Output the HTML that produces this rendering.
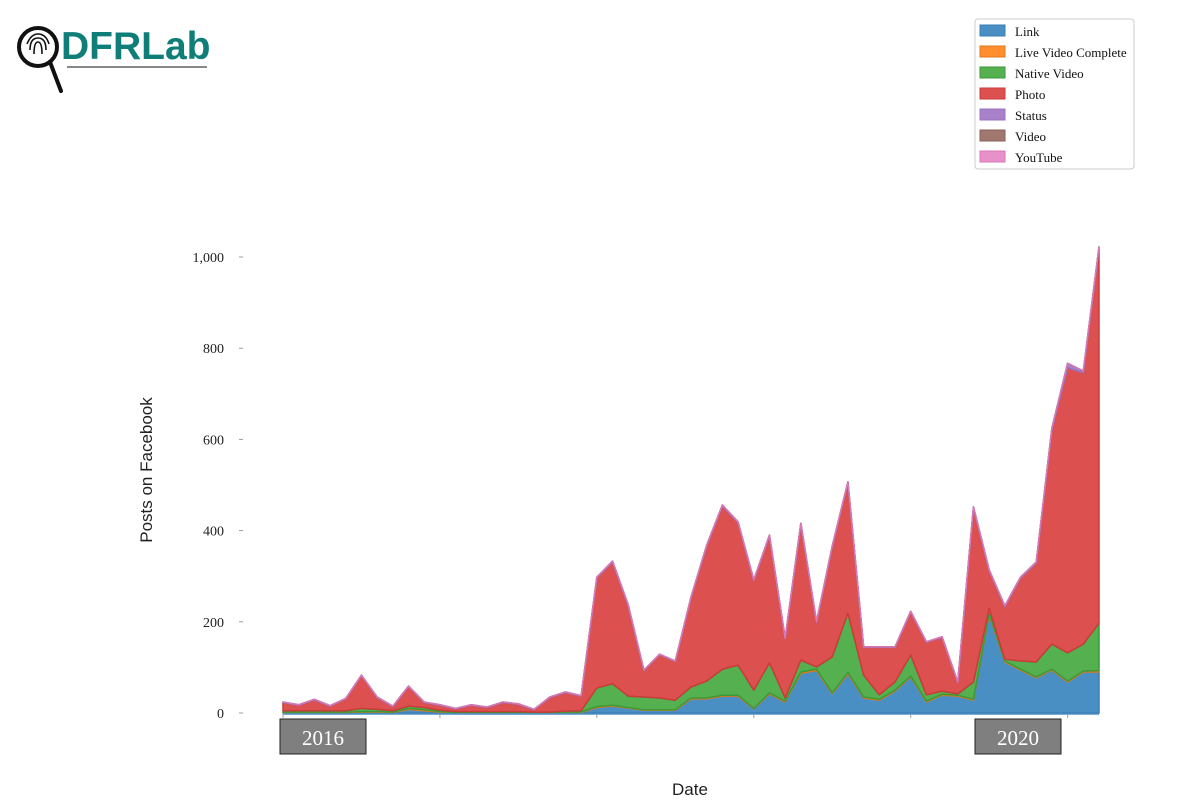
<!DOCTYPE html>
<html><head><meta charset="utf-8">
<style>
body{margin:0;width:1200px;height:812px;background:#fff;overflow:hidden;font-family:"Liberation Serif",serif;}
svg{position:absolute;left:0;top:0;}
</style></head>
<body>
<svg width="1200" height="812" id="chart">
  <g>
    <circle cx="38" cy="47" r="19" fill="none" stroke="#111" stroke-width="4"/>
    <path d="M30 50 q0-12 8-12 q8 0 8 12 M34 54 q0-12 4-12 q4 0 4 12 M27 44 q4-10 11-10 q8 0 11 10" fill="none" stroke="#111" stroke-width="1.6"/>
    <line x1="50" y1="62" x2="61" y2="91" stroke="#111" stroke-width="4" stroke-linecap="round"/>
    <text x="61" y="59" font-family="Liberation Sans, sans-serif" font-weight="bold" font-size="39" fill="#0f7e78">DFRLab</text>
    <line x1="67" y1="67" x2="207" y2="67" stroke="#888" stroke-width="2"/>
  </g>
  <g id="grid"></g>
  <g id="areas"></g>
  <g id="axes"></g>
  <text x="152" y="470" transform="rotate(-90 152 470)" text-anchor="middle" font-family="Liberation Sans, sans-serif" font-size="17" fill="#222">Posts on Facebook</text>
  <text x="690" y="795" text-anchor="middle" font-family="Liberation Sans, sans-serif" font-size="17" fill="#222">Date</text>
  <g>
    <rect x="280" y="719" width="86" height="35" fill="#7f7f7f" stroke="#222" stroke-width="1"/>
    <text x="323" y="745" text-anchor="middle" font-size="21" fill="#fff">2016</text>
  </g>
  <g>
    <rect x="975" y="719" width="86" height="35" fill="#7f7f7f" stroke="#222" stroke-width="1"/>
    <text x="1018" y="745" text-anchor="middle" font-size="21" fill="#fff">2020</text>
  </g>
  <g id="legend">
    <rect x="975" y="19" width="159" height="150" rx="3" fill="#fff" stroke="#ccc"/>
  </g>
</svg>
<script>
const seriesNames=["Link","Live Video Complete","Native Video","Photo","Status","Video","YouTube"];
const colors=["#4a8fc4","#ff8f2e","#55b04f","#dc5050","#a882c8","#a07870","#e890c8"];
const strokes=["#3a7fb4","#e07a1a","#3a9a38","#cc3a3a","#9a70c0","#8a6058","#d878b8"];
const link=[1,1,1,1,1,2,2,1,8,5,2,1,1,1,1,1,1,1,1,1,12,15,11,6,6,6,31,31,37,37,9,42,24,87,93,42,86,33,28,48,79,24,39,37,28,215,112,94,77,94,68,90,90];
const live=[1,1,1,1,1,1,1,1,2,2,1,0,0,0,0,0,0,0,1,1,2,2,1,1,1,1,2,2,2,2,1,2,2,3,3,2,3,2,2,2,2,2,2,2,2,3,2,2,2,2,2,2,3];
const native=[3,3,3,3,3,7,5,3,5,5,3,2,2,2,2,2,1,1,2,3,41,47,25,28,26,21,24,37,57,66,40,66,7,26,5,79,130,48,10,18,46,14,7,3,38,12,4,18,33,55,62,59,104];
const status=[1,1,1,1,1,1,1,1,1,1,1,1,1,1,1,1,1,1,1,1,2,2,2,1,1,1,2,2,2,2,2,2,1,2,1,2,2,1,1,1,2,1,1,1,2,2,2,2,2,4,10,4,4];
const video=new Array(53).fill(0);
const youtube=new Array(53).fill(0);
const totals=[24,18,30,16,32,83,35,15,59,24,18,10,18,13,24,20,8,35,46,38,298,333,237,94,129,114,254,368,456,419,292,390,164,416,200,366,507,145,145,145,223,156,167,68,452,314,235,298,331,625,767,750,1022];
const photo=totals.map((t,i)=>Math.max(0,t-link[i]-live[i]-native[i]-status[i]-video[i]-youtube[i]));
const yTicks=[0,200,400,600,800,1000];
const yTickLabels=["0","200","400","600","800","1,000"];
const NS="http://www.w3.org/2000/svg";
const x0=283,x1=1099,y0=713,yScale=0.456;
const n=totals.length;
const X=i=>x0+(x1-x0)*i/(n-1);
const Y=v=>y0-v*yScale;
const data=[link,live,native,photo,status,video,youtube];
const areas=document.getElementById('areas');
let base=new Array(n).fill(0);
data.forEach((s,k)=>{
  const top=base.map((b,i)=>b+s[i]);
  let d="M"+X(0)+","+Y(top[0]);
  for(let i=1;i<n;i++)d+=" L"+X(i)+","+Y(top[i]);
  for(let i=n-1;i>=0;i--)d+=" L"+X(i)+","+Y(base[i]);
  d+="Z";
  const p=document.createElementNS(NS,'path');
  p.setAttribute('d',d);p.setAttribute('fill',colors[k]);
  p.setAttribute('stroke',strokes[k]);p.setAttribute('stroke-width','1.5');p.setAttribute('stroke-linejoin','round');
  
  
  areas.appendChild(p);
  base=top;
});
const axes=document.getElementById('axes');
yTicks.forEach((t,i)=>{
  const tx=document.createElementNS(NS,'text');
  tx.setAttribute('x',224);tx.setAttribute('y',Y(t)+5);tx.setAttribute('text-anchor','end');
  tx.setAttribute('font-size','14');tx.setAttribute('fill','#222');tx.textContent=yTickLabels[i];
  
  
  axes.appendChild(tx);
  const l=document.createElementNS(NS,'line');
  l.setAttribute('x1',239);l.setAttribute('x2',243);l.setAttribute('y1',Y(t));l.setAttribute('y2',Y(t));
  l.setAttribute('stroke','#99a');
  
  
  axes.appendChild(l);
});
const bl=document.createElementNS(NS,'line');
bl.setAttribute('x1',x0);bl.setAttribute('x2',x1);bl.setAttribute('y1',y0+1);bl.setAttribute('y2',y0+1);
bl.setAttribute('stroke','#4a8fc4');bl.setAttribute('stroke-width','1.5');


axes.appendChild(bl);
for(let i=0;i<n;i+=10){
  const l=document.createElementNS(NS,'line');
  l.setAttribute('x1',X(i));l.setAttribute('x2',X(i));l.setAttribute('y1',y0+1);l.setAttribute('y2',y0+5);
  l.setAttribute('stroke','#99a');
  
  
  axes.appendChild(l);
}
const lg=document.getElementById('legend');
seriesNames.forEach((nm,k)=>{
  const g=document.createElementNS(NS,'g');
  
  
  const y=25+k*21;
  const r=document.createElementNS(NS,'rect');
  r.setAttribute('x',980);r.setAttribute('y',y);r.setAttribute('width',25);r.setAttribute('height',11);
  r.setAttribute('fill',colors[k]);r.setAttribute('stroke',strokes[k]);
  g.appendChild(r);
  const t=document.createElementNS(NS,'text');
  t.setAttribute('x',1015);t.setAttribute('y',y+11);t.setAttribute('font-size','13');t.setAttribute('fill','#111');
  t.textContent=nm;g.appendChild(t);
  lg.appendChild(g);
});
</script>
</body></html>
